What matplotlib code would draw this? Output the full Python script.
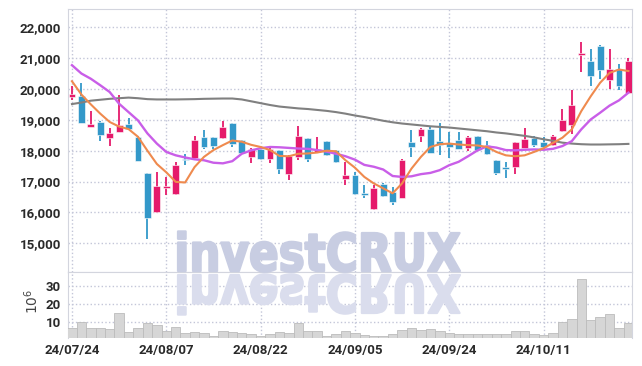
import numpy as np
import matplotlib
matplotlib.use("Agg")
import matplotlib.pyplot as plt
from matplotlib.ticker import FuncFormatter
from matplotlib.textpath import TextPath
from matplotlib.patches import PathPatch
from matplotlib.font_manager import FontProperties
from matplotlib.transforms import Affine2D, IdentityTransform

# daily candles, 24/07/24 .. 24/10/24 (60 trading days)
opens = [19750, 19780, 18780, 18930, 18400, 18610, 18860, 18450, 17280, 16000,
         16780, 16590, 17740, 17750, 18430, 18430, 18400, 18890, 18340, 17800,
         18050, 17720, 18010, 17230, 17780, 18400, 17960, 18300, 18010, 17090,
         17210, 16630, 16120, 16930, 16670, 16480, 18270, 18480, 18690, 18320,
         18250, 18340, 18100, 18470, 18170, 17700, 17480, 17480, 18100, 18420,
         18270, 18200, 18630, 18820, 21100, 20910, 21380, 20300, 20660, 19870]
highs = [20100, 20200, 19300, 18950, 18720, 19800, 19050, 18460, 17290, 17300,
         17150, 17630, 17880, 18480, 18680, 18440, 18950, 18900, 18350, 18090,
         18060, 18110, 18020, 17850, 18800, 18420, 18450, 18310, 18020, 17640,
         17320, 16890, 16880, 16960, 16830, 17720, 18660, 18740, 18770, 18900,
         18600, 18610, 18460, 18480, 18300, 17710, 17640, 18280, 18740, 18460,
         18450, 18500, 19360, 19980, 21520, 21300, 21430, 21300, 20820, 21000]
lows = [19650, 18900, 18770, 18320, 18150, 18600, 18680, 17650, 15130, 15990,
        16560, 16580, 17530, 17690, 18070, 18070, 18390, 18120, 17930, 17590,
        17700, 17590, 17240, 17050, 17700, 17640, 17950, 17820, 17590, 16880,
        16580, 16460, 16090, 16500, 16250, 16460, 17800, 18290, 17930, 17860,
        17750, 18040, 18000, 18000, 17860, 17220, 17130, 17260, 18090, 18120,
        18050, 18150, 18620, 18550, 20550, 20100, 20330, 20000, 19950, 19860]
closes = [19850, 18900, 18850, 18510, 18560, 18820, 18700, 17680, 15830, 16850,
          16850, 17530, 17700, 18340, 18120, 18150, 18760, 18230, 17940, 18050,
          17740, 18050, 17400, 17840, 18470, 17740, 18070, 17860, 17640, 17200,
          16600, 16550, 16790, 16540, 16350, 17700, 18130, 18690, 17940, 18200,
          18130, 18050, 18440, 18030, 17890, 17270, 17400, 18270, 18370, 18190,
          18110, 18480, 19000, 19490, 21180, 20430, 20620, 20660, 20080, 20890]

ma_short = [20250, 19820, 19500, 19200, 18930, 18780, 18700, 18450, 18000, 17570,
            17300, 16990, 16970, 17470, 17800, 18020, 18180, 18330, 18290, 18190,
            18120, 18020, 17830, 17820, 17900, 17910, 17940, 18000, 17980, 17690,
            17450, 17150, 16940, 16780, 16620, 16940, 17420, 17800, 18120, 18210,
            18230, 18200, 18180, 18170, 18120, 17960, 17850, 17820, 17850, 17960,
            18080, 18250, 18420, 18690, 19280, 19760, 20200, 20520, 20630, 20580]
ma_mid = [20770, 20500, 20330, 20120, 19900, 19520, 19250, 18980, 18560, 18230,
          17960, 17850, 17780, 17720, 17690, 17610, 17590, 17660, 17900, 18010,
          18080, 18120, 18110, 18090, 18070, 18060, 18020, 17970, 17900, 17820,
          17710, 17540, 17480, 17390, 17180, 17150, 17170, 17240, 17280, 17370,
          17530, 17640, 17820, 18010, 18140, 18100, 18020, 18010, 18030, 18040,
          18030, 18060, 18150, 18310, 18690, 19010, 19230, 19460, 19630, 19880]
ma_long = [19510, 19560, 19620, 19650, 19680, 19700, 19720, 19700, 19670, 19660,
           19660, 19660, 19665, 19670, 19680, 19685, 19690, 19690, 19660, 19600,
           19540, 19480, 19430, 19400, 19370, 19350, 19320, 19290, 19250, 19200,
           19140, 19090, 19030, 18970, 18920, 18880, 18850, 18820, 18790, 18770,
           18750, 18720, 18690, 18660, 18630, 18590, 18560, 18520, 18480, 18430,
           18370, 18320, 18260, 18230, 18210, 18200, 18200, 18205, 18210, 18220]

# volume in millions of shares
volume_m = [6.7, 9.6, 6.2, 6.2, 5.6, 14.6, 3.9, 6.7, 9.0, 7.9,
            4.5, 7.2, 3.7, 3.9, 3.4, 2.2, 4.5, 4.1, 3.4, 2.8,
            2.2, 3.0, 3.9, 3.4, 9.0, 5.0, 4.5, 2.2, 3.0, 4.9,
            3.4, 2.6, 2.1, 2.2, 3.0, 5.2, 6.2, 5.2, 5.6, 4.7,
            3.7, 3.0, 3.0, 3.0, 3.0, 3.0, 3.0, 4.7, 4.7, 3.0,
            2.6, 3.4, 9.7, 11.2, 34.2, 10.8, 12.7, 14.2, 6.7, 9.0]

tick_pos = [0, 10, 20, 30, 40, 50]
tick_labels = ["24/07/24", "24/08/07", "24/08/22", "24/09/05", "24/09/24", "24/10/11"]
price_ticks = [15000, 16000, 17000, 18000, 19000, 20000, 21000, 22000]
vol_ticks = [10, 20, 30]

RED = "#e51a6b"
BLUE = "#3398c9"
GRID = "#c3c6d8"
SPINE = "#d3d5de"
TXT = "#2a2a2a"

plt.rcParams["font.family"] = ["Roboto", "DejaVu Sans"]

W, H = 642, 366
fig = plt.figure(figsize=(W / 100, H / 100), dpi=100)
ax = fig.add_axes([68 / W, 1 - 272 / H, (632 - 68) / W, (272 - 9) / H])
axv = fig.add_axes([68 / W, 1 - 338 / H, (632 - 68) / W, (338 - 272) / H], sharex=ax)

x = np.arange(len(closes))
o = np.array(opens)
c = np.array(closes)
cols = np.where(c >= o, RED, BLUE)

ax.vlines(x, lows, highs, colors=cols, lw=1.3, zorder=3)
ax.bar(x, np.maximum(np.abs(c - o), 40), bottom=np.minimum(o, c), width=0.72,
       color=cols, edgecolor="white", linewidth=0.4, zorder=4)

ax.plot(x, ma_long, color="#808080", lw=1.5, zorder=5)
ax.plot(x, ma_mid, color="#c95ee8", lw=1.7, zorder=5)
ax.plot(x, ma_short, color="#ef8a4e", lw=1.5, zorder=6)

ax.set_xlim(-0.42, 59.38)
ax.set_ylim(14070, 22590)
ax.set_yticks(price_ticks)
ax.yaxis.set_major_formatter(FuncFormatter(lambda v, p: f"{int(v):,}"))
ax.set_xticks(tick_pos)
ax.tick_params(axis="x", labelbottom=False, length=0)
ax.tick_params(axis="y", length=0, pad=5, labelsize=9.5, labelcolor=TXT)
for lab in ax.get_yticklabels():
    lab.set_fontweight("bold")
ax.grid(True, ls=":", color=GRID, lw=1)
ax.set_axisbelow(True)
for s in ax.spines.values():
    s.set_color(SPINE)

axv.bar(x, volume_m, width=1.0, color="#d6d6d6", edgecolor="#bcbcbc", linewidth=0.6, zorder=3)
axv.set_ylim(0.8, 37.9)
axv.set_yticks(vol_ticks)
axv.set_xticks(tick_pos)
axv.set_xticklabels(tick_labels)
axv.tick_params(axis="x", length=0, pad=4, labelsize=9.5, labelcolor=TXT)
axv.tick_params(axis="y", length=0, pad=5, labelsize=9.5, labelcolor=TXT)
for lab in axv.get_xticklabels() + axv.get_yticklabels():
    lab.set_fontweight("bold")
axv.grid(True, ls=":", color=GRID, lw=1)
axv.set_axisbelow(True)
for s in axv.spines.values():
    s.set_color(SPINE)
axv.spines["bottom"].set_visible(False)

fig.text(32 / W, 1 - 301 / H, r"$10^6$", rotation=90, ha="center", va="center",
         fontsize=10, color="#444444")

# watermark with mirrored reflection, placed in pixel coordinates
wm = TextPath((0, 0), "investCRUX", size=100,
              prop=FontProperties(family="DejaVu Sans", weight="bold"))
ext = wm.get_extents()
sx = 282 / ext.width
sy = 38 / 72.9
x0 = 178 - ext.x0 * sx
fig.add_artist(PathPatch(wm, transform=Affine2D().scale(sx, sy).translate(x0, H - 271)
                         + IdentityTransform(), fc="#c8cde2", ec="#c8cde2", lw=1.6,
                         joinstyle="round", zorder=10))
fig.add_artist(PathPatch(wm, transform=Affine2D().scale(sx, -sy).translate(x0, H - 275)
                         + IdentityTransform(), fc="#dadded", ec="#dadded", lw=1.6,
                         joinstyle="round", zorder=10))

fig.savefig("out.png", dpi=100, facecolor="white")
